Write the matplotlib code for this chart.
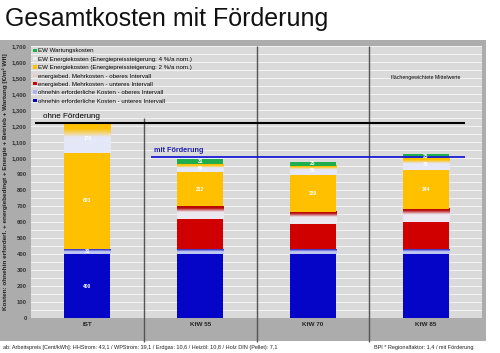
import matplotlib.pyplot as plt
import numpy as np
from matplotlib.patches import Patch, Rectangle
from matplotlib.colors import LinearSegmentedColormap

plt.rcParams['font.family'] = ['Liberation Sans', 'DejaVu Sans']

# data [EUR/m2 Wfl]
kategorien = ["IST", "KfW 55", "KfW 70", "KfW 85"]
ohnehin_unten = [400, 400, 400, 400]
ohnehin_oben = [31, 31, 31, 31]
mehrkosten_unten = [0, 188, 156, 167]
mehrkosten_oben = [0, 81, 77, 83]
energie_2 = [603, 212, 229, 244]
energie_4 = [176, 50, 59, 75]
wartung = [0, 31, 25, 25]

ohne_foerderung = 1221
mit_foerderung = 1004

legend_names = [
    "EW Wartungskosten",
    "EW Energiekosten (Energiepreissteigerung: 4 %/a nom.)",
    "EW Energiekosten (Energiepreissteigerung: 2 %/a nom.)",
    "energiebed. Mehrkosten - oberes Intervall",
    "energiebed. Mehrkosten - unteres Intervall",
    "ohnehin erforderliche Kosten - oberes Intervall",
    "ohnehin erforderliche Kosten - unteres Intervall",
]

# (values, colour / gradient top colour, light gradient colour or None, legend colour, label?)
serien = [
    (ohnehin_unten, "#0505c8", None, "#0505c8", "ist"),
    (ohnehin_oben, "#3a3ac8", "#bcc6f2", "#a9b4ee", "ist"),
    (mehrkosten_unten, "#d00000", None, "#d00000", None),
    (mehrkosten_oben, "#b80808", "#ece8f0", "#f0c8cc", None),
    (energie_2, "#ffc000", None, "#ffc000", "all"),
    (energie_4, "#ffc000", "#e4e8f8", "#eeeeee", "all"),
    (wartung, "#1fae4c", None, "#1fae4c", "all"),
]

fig = plt.figure(figsize=(5.0, 3.53), dpi=100)
fig.patches.append(Rectangle((0, 12 / 353), 486 / 500, 301 / 353, transform=fig.transFigure,
                             facecolor="#acacac", edgecolor="none", zorder=-10))
fig.text(0.01, 0.925, "Gesamtkosten mit Förderung", fontsize=18, color="#111111")

ax = fig.add_axes([31 / 500, 35 / 353, 451 / 500, 272 / 353])
ax.set_facecolor("#dadada")

x = np.arange(len(kategorien))
width = 0.41
bottom = np.zeros(len(kategorien))
for vals, col, hell, lcol, lab in serien:
    vals = np.array(vals, dtype=float)
    if hell:
        cmap = LinearSegmentedColormap.from_list(
            "g", [(0, hell), (0.55, hell), (0.85, col), (1, col)])
        for i in range(len(x)):
            if vals[i] > 0:
                ax.imshow(np.linspace(0, 1, 50).reshape(-1, 1), cmap=cmap, origin="lower",
                          extent=[x[i] - width / 2, x[i] + width / 2, bottom[i], bottom[i] + vals[i]],
                          aspect="auto", zorder=3, interpolation="bilinear")
    else:
        ax.bar(x, vals, width, bottom=bottom, color=col, zorder=3, linewidth=0)
    for i in range(len(x)):
        if vals[i] > 0 and (lab == "all" or (lab == "ist" and i == 0)):
            ax.text(x[i], bottom[i] + vals[i] / 2, "%d" % vals[i], ha="center", va="center",
                    fontsize=3.5, color="white", fontweight="bold", zorder=5)
    bottom += vals

# separators between the variants
ax.vlines(0.5, -150, 1250, color="#555555", lw=1.0, zorder=2, clip_on=False)
ax.vlines([1.5, 2.5], -150, 1700, color="#555555", lw=1.0, zorder=2, clip_on=False)

# reference lines
ax.hlines(ohne_foerderung, -0.465, 3.35, color="black", lw=1.5, zorder=4)
ax.text(-0.39, ohne_foerderung + 18, "ohne Förderung", fontsize=5.8, va="bottom", zorder=5)
ax.hlines(mit_foerderung, 0.56, 3.35, color="#1c1cd8", lw=1.3, zorder=4)
ax.text(0.59, mit_foerderung + 18, "mit Förderung", fontsize=5.2, color="#1c1cb0",
        fontweight="bold", va="bottom", zorder=5)
ax.text(3.0, 1500, "flächengewichtete Mittelwerte", fontsize=3.8, ha="center", va="center")

ax.set_xlim(-0.5, 3.5)
ax.set_ylim(0, 1700)
ax.set_yticks(np.arange(0, 1701, 100))
ax.set_yticklabels(["{:,}".format(v) for v in range(0, 1701, 100)], fontsize=4.2,
                   fontweight="bold", color="#333333")
ax.set_yticks(np.arange(0, 1701, 50), minor=True)
ax.grid(axis="y", which="both", color="#f2f2f2", lw=0.7, zorder=0)
ax.set_xticks(x)
ax.set_xticklabels(kategorien, fontsize=4.5, fontweight="bold", color="#222222")
ax.tick_params(which="both", length=0, pad=3)
for s in ax.spines.values():
    s.set_visible(False)
ax.set_ylabel("Kosten: ohnehin erforderl. + energiebedingt + Energie + Betrieb + Wartung [€/m² Wfl]",
              fontsize=4.6, fontweight="bold", color="#222222", labelpad=3)

handles = [Patch(facecolor=s[3], edgecolor="none") for s in serien][::-1]
leg = ax.legend(handles, legend_names, loc="upper left", bbox_to_anchor=(0.0, 1.0),
                fontsize=4.4, frameon=False, handlelength=0.5, handleheight=0.5,
                handletextpad=0.3, labelspacing=0.55, borderaxespad=0.2, borderpad=0.2)
leg.set_zorder(6)

fig.text(3 / 500, 4 / 353, "ab: Arbeitspreis [Cent/kWh]: HHStrom: 43,1 / WPStrom: 39,1 / Erdgas: 10,6 / "
         "Heizöl: 10,8 / Holz DIN (Pellet): 7,1", fontsize=4.0, color="#222222")
fig.text(473 / 500, 4 / 353, "BPI * Regionalfaktor: 1,4 / mit Förderung", fontsize=4.0,
         color="#222222", ha="right")

fig.savefig("out.png", dpi=100)
